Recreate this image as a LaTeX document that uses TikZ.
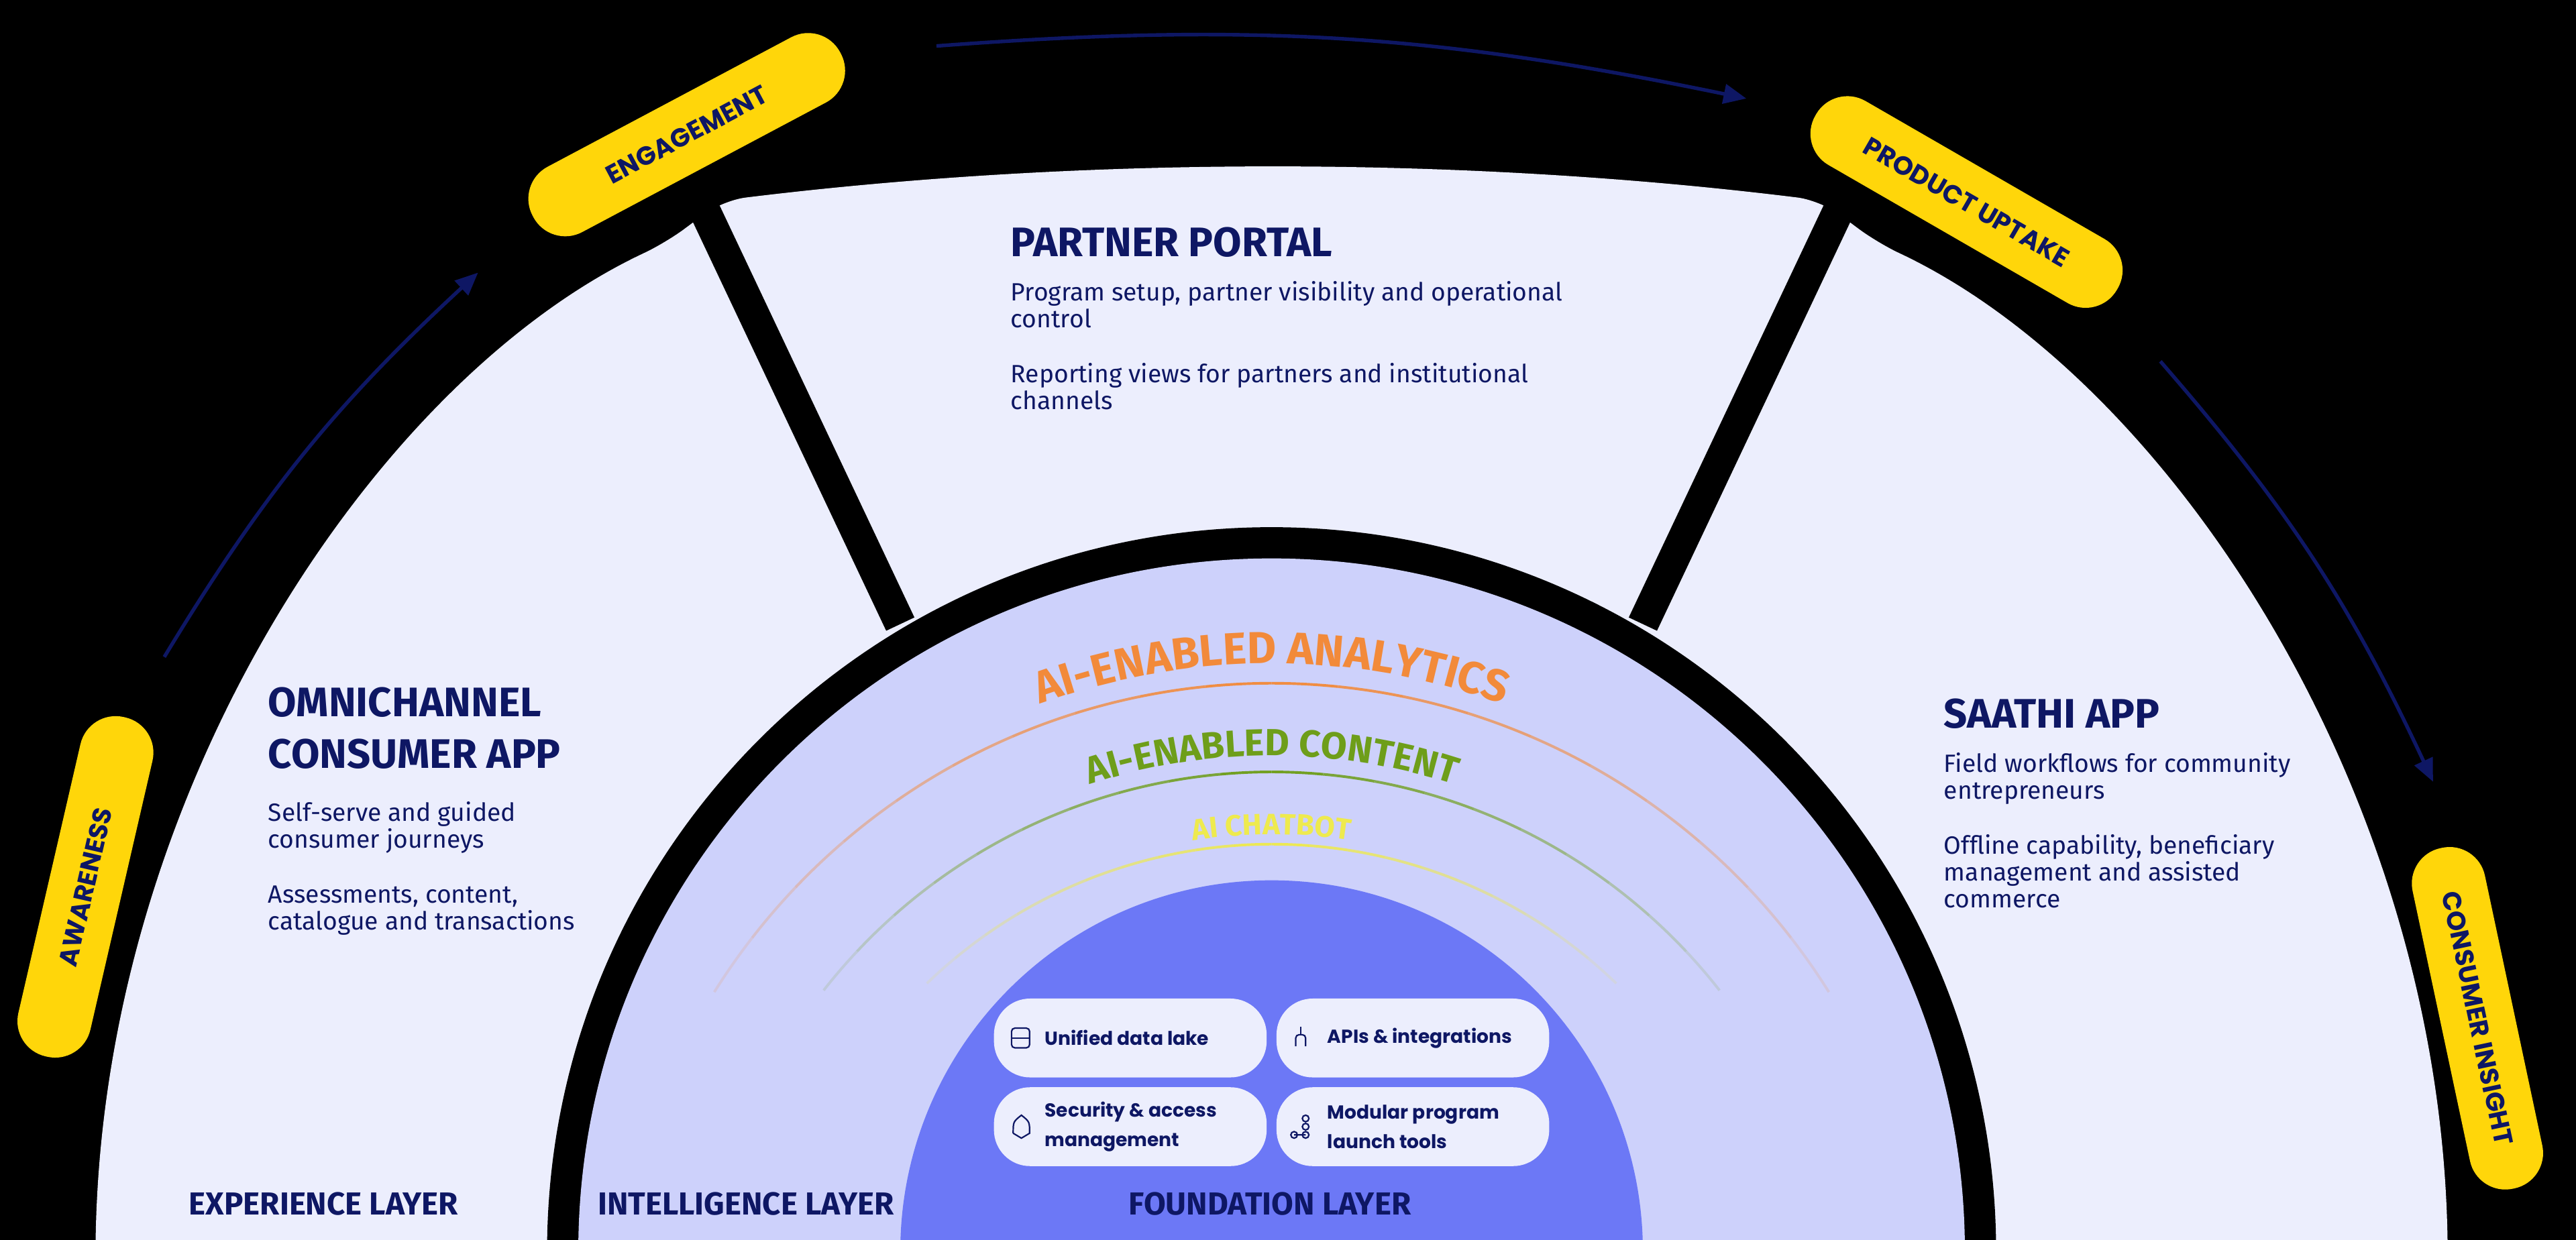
\documentclass[tikz,border=0pt]{standalone}
\usepackage{fontspec}
\setmainfont{Fira Sans}
\newfontfamily\pop{Poppins}
\usepackage{tikz}
\usetikzlibrary{arrows.meta,decorations.text,positioning}
\newlength\pxu
\setlength\pxu{0.0244898cm}
\definecolor{navy}{HTML}{0E1764}
\definecolor{segfill}{HTML}{ECEEFD}
\definecolor{intfill}{HTML}{CDD1FB}
\definecolor{foundfill}{HTML}{6C78F6}
\definecolor{pillyel}{HTML}{FFD60A}
\definecolor{arcorange}{HTML}{F28A3A}
\definecolor{arcgreen}{HTML}{6E9E1A}
\definecolor{arcyellow}{HTML}{EEEA4E}
\newcommand\fadearc[4]{% colour, radius, start, end
  \foreach \i in {0,...,19}{
    \pgfmathsetmacro\op{1-abs(\i-9.5)/10*0.9}
    \pgfmathsetmacro\aa{#3+(#4-#3)*\i/20}
    \pgfmathsetmacro\ab{#3+(#4-#3)*(\i+1)/20}
    \draw[#1, line width=1.6\pxu, opacity=\op] (\aa:#2) arc[start angle=\aa, end angle=\ab, radius=#2];
  }}
\begin{document}
\begin{tikzpicture}[x=1\pxu, y=-1\pxu,
    pill/.style={fill=pillyel, rounded corners=22\pxu, minimum width=212\pxu, minimum height=45\pxu,
      text=navy, font=\pop\fontsize{11}{12}\selectfont\bfseries, inner sep=0pt},
    heading/.style={anchor=north west, text=navy, align=left, inner sep=0pt,
      font=\fontsize{17.5}{22}\selectfont\bfseries},
    body/.style={anchor=north west, text=navy, align=left, inner sep=0pt,
      font=\fontsize{10.6}{11.3}\selectfont},
    layer/.style={text=navy, inner sep=0pt, font=\fontsize{13.5}{15}\selectfont\bfseries},
    tile/.style={fill=segfill, rounded corners=22\pxu, minimum width=166\pxu, minimum height=48\pxu,
      inner sep=0pt},
    tiletext/.style={anchor=west, text=navy, align=left, inner sep=0pt,
      font=\pop\fontsize{8}{12.5}\selectfont\bfseries},
    icon/.style={navy, line width=0.9\pxu},
    flow/.style={draw=navy, line width=2.2\pxu, -{Triangle[length=0.34cm, width=0.29cm]}}
  ]
  \useasboundingbox (0,0) rectangle (1568,755);
  \clip (0,0) rectangle (1568,755);
  \fill[black] (0,0) rectangle (1568,755);

  % outer segments
  \fill[segfill, rounded corners=14\pxu] (58,770) .. controls (62,480) and (230,230) .. (405,148)
    -- (440,122) .. controls (660,95) and (890,95) .. (1108,122)
    -- (1143,148) .. controls (1318,230) and (1486,480) .. (1490,770) -- cycle;
  \draw[black, line width=19\pxu] (548,380) -- (418,105);
  \draw[black, line width=19\pxu] (1000,380) -- (1130,105);

  % intelligence and foundation
  \fill[black] (774,762) circle[radius=441];
  \fill[intfill] (774,762) circle[radius=422];
  \fill[foundfill] (774,762) circle[radius=226];

  % ai arcs
  \begin{scope}[shift={(774,816)}]
    \fadearc{arcorange}{400}{212}{328}
    \fadearc{arcgreen}{346}{218}{322}
    \fadearc{arcyellow}{302}{226}{314}
    \path[decorate, decoration={text along path, text align=center,
      text={|\color{arcorange}\fontsize{19}{20}\selectfont\bfseries|AI-ENABLED ANALYTICS}}]
      (235:412) arc[start angle=235, end angle=305, radius=412];
    \path[decorate, decoration={text along path, text align=center,
      text={|\color{arcgreen}\fontsize{16}{18}\selectfont\bfseries|AI-ENABLED CONTENT}}]
      (235:356) arc[start angle=235, end angle=305, radius=356];
    \path[decorate, decoration={text along path, text align=center,
      text={|\color{arcyellow}\fontsize{12.5}{14}\selectfont\bfseries|AI CHATBOT}}]
      (240:308) arc[start angle=240, end angle=300, radius=308];
  \end{scope}

  % foundation tiles
  \node[tile] (lake) at (688,632) {};
  \node[tile] (apis) at (860,632) {};
  \node[tile] (secure) at (688,686) {};
  \node[tile] (modular) at (860,686) {};
  \node[tiletext] at ([xshift=31\pxu]lake.west) {Unified data lake};
  \node[tiletext] at ([xshift=31\pxu]apis.west) {APIs \& integrations};
  \node[tiletext] at ([xshift=31\pxu]secure.west) {Security \& access\\management};
  \node[tiletext] at ([xshift=31\pxu]modular.west) {Modular program\\launch tools};
  \draw[icon, rounded corners=2\pxu] ([xshift=11\pxu,yshift=-6\pxu]lake.west) rectangle ([xshift=22\pxu,yshift=6\pxu]lake.west);
  \draw[icon] ([xshift=11\pxu]lake.west) -- ([xshift=22\pxu]lake.west);
  \draw[icon, rounded corners=2\pxu] ([xshift=184\pxu,yshift=-5\pxu]lake.west) -- ([xshift=184\pxu,yshift=2\pxu]lake.west)
    -- ([xshift=190\pxu,yshift=2\pxu]lake.west) -- ([xshift=190\pxu,yshift=-5\pxu]lake.west);
  \draw[icon] ([xshift=187\pxu,yshift=2\pxu]lake.west) -- ([xshift=187\pxu,yshift=7\pxu]lake.west);
  \draw[icon] ([xshift=12\pxu,yshift=-4\pxu]secure.west) -- ([xshift=17\pxu,yshift=-7\pxu]secure.west)
    -- ([xshift=22\pxu,yshift=-4\pxu]secure.west) .. controls ([xshift=22\pxu,yshift=3\pxu]secure.west)
    .. ([xshift=17\pxu,yshift=7\pxu]secure.west) .. controls ([xshift=12\pxu,yshift=3\pxu]secure.west)
    .. ([xshift=12\pxu,yshift=-4\pxu]secure.west);
  \draw[icon] ([xshift=183\pxu,yshift=-5\pxu]secure.west) circle[radius=2] -- ([xshift=190\pxu,yshift=-5\pxu]secure.west);
  \draw[icon] ([xshift=190\pxu,yshift=-5\pxu]secure.west) circle[radius=2];
  \draw[icon] ([xshift=190\pxu,yshift=0\pxu]secure.west) circle[radius=2];
  \draw[icon] ([xshift=190\pxu,yshift=5\pxu]secure.west) circle[radius=2];

  % pills
  \node[pill, rotate=77] (aware) at (52,540) {AWARENESS};
  \node[pill, rotate=28] (engage) at (418,82) {ENGAGEMENT};
  \node[pill, rotate=-30] (uptake) at (1197,123) {PRODUCT UPTAKE};
  \node[pill, rotate=-78] (insight) at (1508,620) {CONSUMER INSIGHT};

  % flow arrows
  \coordinate (f1s) at (100,400);
  \coordinate (f1e) at (291,166);
  \coordinate (f2s) at (570,28);
  \coordinate (f2e) at (1063,60);
  \coordinate (f3s) at (1315,220);
  \coordinate (f3e) at (1481,476);
  \draw[flow] (f1s) to[bend left=8] (f1e);
  \draw[flow] (f2s) to[bend left=8] (f2e);
  \draw[flow] (f3s) to[bend left=8] (f3e);

  % segment texts
  \node[heading] (omni) at (163,418) {OMNICHANNEL\\CONSUMER APP};
  \node[body] (omni1) at (163,488) {Self-serve and guided\\consumer journeys};
  \node[body] (omni2) at (163,539) {Assessments, content,\\catalogue and transactions};
  \node[heading] (portal) at (615,138) {PARTNER PORTAL};
  \node[body] (portal1) at (615,171) {Program setup, partner visibility and operational\\control};
  \node[body] (portal2) at (615,221) {Reporting views for partners and institutional\\channels};
  \node[heading] (saathi) at (1183,425) {SAATHI APP};
  \node[body] (saathi1) at (1183,458) {Field workflows for community\\entrepreneurs};
  \node[body] (saathi2) at (1183,508) {Offline capability, beneficiary\\management and assisted\\commerce};

  % layer labels
  \node[layer] (exp) at (197,733) {EXPERIENCE LAYER};
  \node[layer] (intl) at (454,733) {INTELLIGENCE LAYER};
  \node[layer] (fnd) at (773,733) {FOUNDATION LAYER};
\end{tikzpicture}
\end{document}
